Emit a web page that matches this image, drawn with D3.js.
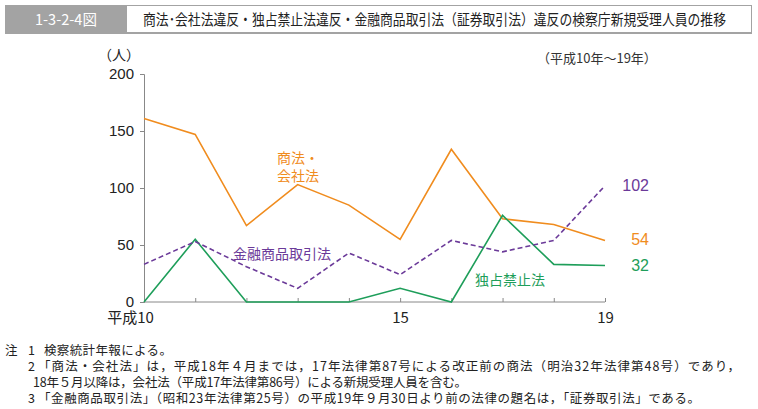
<!DOCTYPE html>
<html><head><meta charset="utf-8">
<script src="https://cdn.jsdelivr.net/npm/d3@7/dist/d3.min.js"></script>
<style>body{margin:0;background:#fff}svg{display:block}</style>
</head><body>
<svg id="c" width="758" height="409"></svg>
<script>
const years = [10,11,12,13,14,15,16,17,18,19];
const xTickLabels = {10:"平成10",15:"15",19:"19"};
const yTicks = [0,50,100,150,200];
const shoho = [161,147,67,103,85,55,134,73,68,54];
const kinyu = [33,53,31,12,43,24,54,44,54,102];
const dokusen = [0,55,0,0,0,12,0,76,33,32];
const seriesNames = ["商法・会社法","金融商品取引法","独占禁止法"];
const title = "商法･会社法違反・独占禁止法違反・金融商品取引法（証券取引法）違反の検察庁新規受理人員の推移";
const notes = [
 ["注","1","検察統計年報による。"],
 ["","2","「商法・会社法」は，平成18年４月までは，17年法律第87号による改正前の商法（明治32年法律第48号）であり，"],
 ["","","18年５月以降は，会社法（平成17年法律第86号）による新規受理人員を含む。"],
 ["","3","「金融商品取引法」（昭和23年法律第25号）の平成19年９月30日より前の法律の題名は，「証券取引法」である。"]
];

const svg = d3.select("#c");
const JP = "'Noto Sans CJK JP', sans-serif";
const NUM = "'Liberation Sans', Arial, sans-serif";
const cOr = "#f08c1e", cPu = "#6b3a99", cGr = "#1e9e5a";

// header
svg.append("rect").attr("x",5).attr("y",5).attr("width",121).attr("height",28).attr("fill","#a3a3a3");
svg.append("rect").attr("x",126.5).attr("y",5.5).attr("width",625).attr("height",27).attr("fill","#fff").attr("stroke","#a3a3a3");
svg.append("line").attr("x1",5).attr("x2",752).attr("y1",33).attr("y2",33).attr("stroke","#a3a3a3").attr("stroke-width",2);
svg.append("text").attr("x",66).attr("y",25).attr("text-anchor","middle").attr("fill","#fff")
  .attr("font-family",JP).attr("font-size",15).attr("textLength",62).attr("lengthAdjust","spacingAndGlyphs").text("1-3-2-4図");
svg.append("text").attr("x",143).attr("y",25).attr("fill","#222")
  .attr("font-family",JP).attr("font-size",15).attr("textLength",583).attr("lengthAdjust","spacingAndGlyphs").text(title);

const x = d3.scaleLinear().domain([10,19]).range([144,605]);
const y = d3.scaleLinear().domain([0,200]).range([302,74]);

const axisColor = "#888";
// y axis
const ya = svg.append("g").attr("transform","translate(144,0)")
  .call(d3.axisLeft(y).tickValues(yTicks).tickSize(4).tickPadding(6));
ya.select(".domain").attr("stroke",axisColor);
ya.selectAll(".tick line").attr("stroke",axisColor);
ya.selectAll("text").attr("font-family",NUM).attr("font-size",15).attr("fill","#222");
// x axis
const xa = svg.append("g").attr("transform","translate(0,302)")
  .call(d3.axisBottom(x).tickValues(years).tickSize(-4).tickSizeOuter(0).tickPadding(10).tickFormat(d=>xTickLabels[d]||""));
xa.select(".domain").attr("stroke",axisColor).attr("d","M144,0H605");
xa.selectAll(".tick line").attr("stroke",axisColor);
xa.selectAll("text").attr("font-family",JP).attr("font-size",15).attr("fill","#222");
xa.selectAll(".tick text").filter(d=>d===10).attr("text-anchor","middle").attr("dx",-14);

svg.append("text").attr("x",104).attr("y",60).attr("font-family",JP).attr("font-size",14).attr("fill","#222").text("（人）").attr("dx",-6);
svg.append("text").attr("x",537).attr("y",63).attr("font-family",JP).attr("font-size",13).attr("fill","#333").text("（平成10年～19年）");

const line = d3.line().x((d,i)=>x(years[i])).y(d=>y(d));
svg.append("path").datum(shoho).attr("d",line).attr("fill","none").attr("stroke",cOr).attr("stroke-width",1.6);
svg.append("path").datum(dokusen).attr("d",line).attr("fill","none").attr("stroke",cGr).attr("stroke-width",1.6);
svg.append("path").datum(kinyu).attr("d",line).attr("fill","none").attr("stroke",cPu).attr("stroke-width",1.6).attr("stroke-dasharray","5,3");

// end labels
const endLab = [[kinyu,cPu],[shoho,cOr],[dokusen,cGr]];
endLab.forEach(([s,c])=>{
  svg.append("text").attr("x",x(19)+44).attr("y",y(s[s.length-1])+5).attr("text-anchor","end")
    .attr("font-family",NUM).attr("font-size",16).attr("fill",c).text(s[s.length-1]);
});
// series labels
svg.append("text").attr("x",277).attr("y",163).attr("font-family",JP).attr("font-size",14).attr("fill",cOr).text("商法・");
svg.append("text").attr("x",277).attr("y",181).attr("font-family",JP).attr("font-size",14).attr("fill",cOr).text("会社法");
svg.append("text").attr("x",233).attr("y",259).attr("font-family",JP).attr("font-size",14).attr("fill",cPu).text("金融商品取引法");
svg.append("text").attr("x",475).attr("y",285).attr("font-family",JP).attr("font-size",14).attr("fill",cGr).text("独占禁止法");

// notes
const ny = [355,371,387,403];
const nx = [44,38,33,38];
const nlen = [128,702,434,662];
notes.forEach((n,i)=>{
  const g = svg.append("g").attr("font-family",JP).attr("font-size",12.5).attr("fill","#222");
  if(n[0]) g.append("text").attr("x",5).attr("y",ny[i]).text(n[0]);
  if(n[1]) g.append("text").attr("x",28).attr("y",ny[i]).text(n[1]);
  g.append("text").attr("x",nx[i]).attr("y",ny[i]).attr("textLength",nlen[i]).attr("lengthAdjust","spacing").text(n[2]);
});
</script>
</body></html>
